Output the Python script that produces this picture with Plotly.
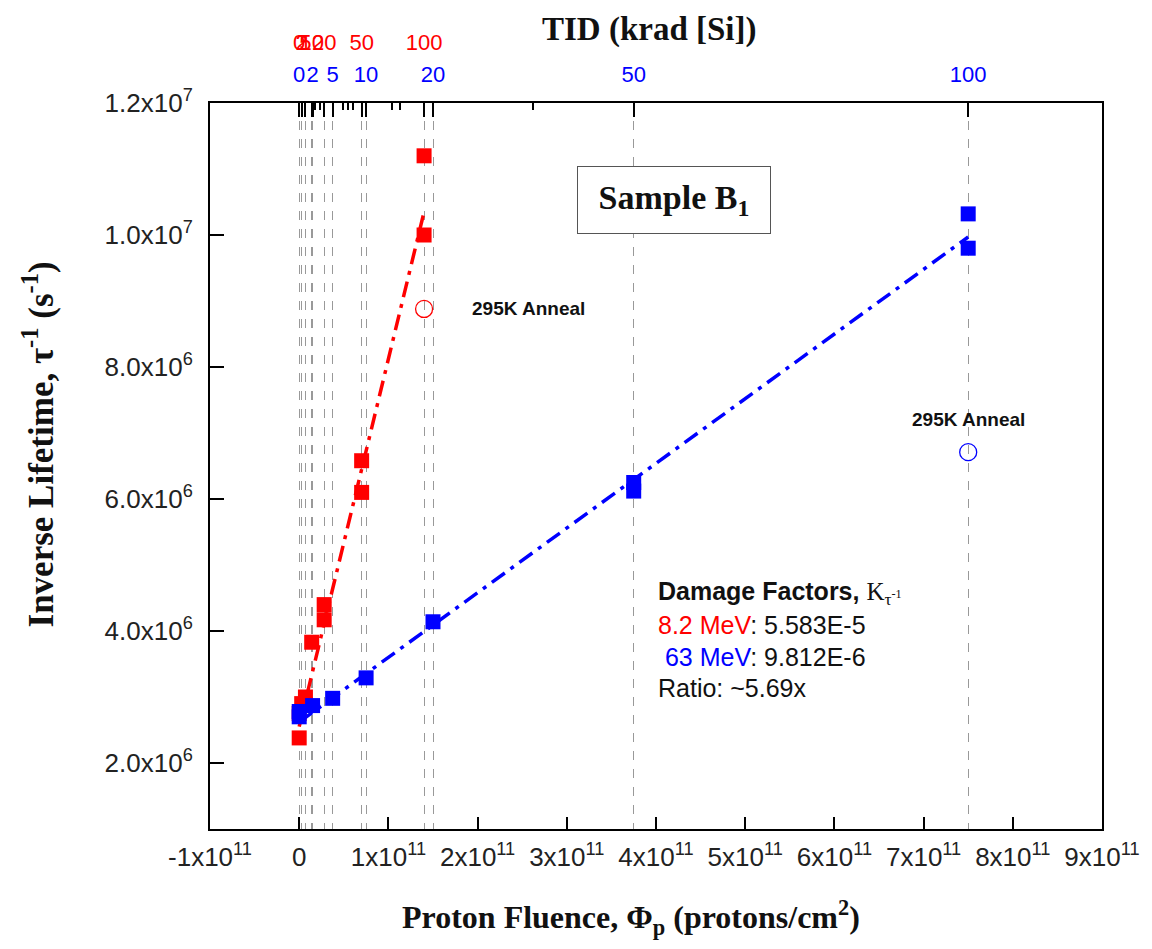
import plotly.graph_objects as go

# 8.2 MeV protons (red)
red_x = [0, 0, 2.8e9, 7e9, 1.4e10, 2.8e10, 2.8e10, 7e10, 7e10, 1.4e11, 1.4e11]
red_y = [2.38e6, 2.75e6, 2.9e6, 3.0e6, 3.83e6, 4.17e6, 4.4e6, 6.1e6, 6.58e6, 1.0e7, 1.12e7]
red_fit_x = [0, 1.4e11]
red_fit_y = [2.55e6, 1.035e7]
red_anneal_x = [1.4e11]
red_anneal_y = [8.88e6]

# 63 MeV protons (blue)
blue_x = [0, 0, 1.5e10, 3.75e10, 7.5e10, 1.5e11, 3.75e11, 3.75e11, 7.5e11, 7.5e11]
blue_y = [2.7e6, 2.78e6, 2.87e6, 2.98e6, 3.29e6, 4.14e6, 6.12e6, 6.25e6, 9.8e6, 1.032e7]
blue_fit_x = [0, 7.5e11]
blue_fit_y = [2.62e6, 9.97e6]
blue_anneal_x = [7.5e11]
blue_anneal_y = [6.71e6]

# top TID axis (krad [Si]) -> fluence positions
tid_labels = ["0", "2", "5", "10", "20", "50", "100"]
tid_blue_pos = [0, 1.5e10, 3.75e10, 7.5e10, 1.5e11, 3.75e11, 7.5e11]
tid_red_pos = [0, 2.8e9, 7e9, 1.4e10, 2.8e10, 7e10, 1.4e11]
tid_minor_pos = [1.8e10, 2.35e10, 4.9e10, 5.5e10, 6.05e10, 1.04e11, 1.13e11, 2.62e11]

x_ticks = [-1e11, 0, 1e11, 2e11, 3e11, 4e11, 5e11, 6e11, 7e11, 8e11, 9e11]
x_ticktext = ["-1x10<sup>11</sup>", "0"] + ["%dx10<sup>11</sup>" % i for i in range(1, 10)]
y_ticks = [2e6, 4e6, 6e6, 8e6, 1e7, 1.2e7]
y_ticktext = ["2.0x10<sup>6</sup>", "4.0x10<sup>6</sup>", "6.0x10<sup>6</sup>",
              "8.0x10<sup>6</sup>", "1.0x10<sup>7</sup>", "1.2x10<sup>7</sup>"]

RED = "#ff0000"
BLUE = "#0000ff"
SANS = "Liberation Sans, Arial"
SERIF = "Liberation Serif, Times New Roman"
DASHDOT = "16px,7px,4px,7px"

fig = go.Figure()

fig.add_trace(go.Scatter(x=red_fit_x, y=red_fit_y, mode="lines",
                         line=dict(color=RED, width=3.5, dash=DASHDOT)))
fig.add_trace(go.Scatter(x=blue_fit_x, y=blue_fit_y, mode="lines",
                         line=dict(color=BLUE, width=3.5, dash=DASHDOT)))
fig.add_trace(go.Scatter(x=red_x, y=red_y, mode="markers",
                         marker=dict(symbol="square", size=15, color=RED)))
fig.add_trace(go.Scatter(x=blue_x, y=blue_y, mode="markers",
                         marker=dict(symbol="square", size=15, color=BLUE)))
fig.add_trace(go.Scatter(x=red_anneal_x, y=red_anneal_y, mode="markers",
                         marker=dict(symbol="circle-open", size=17, color=RED,
                                     line=dict(width=1.3))))
fig.add_trace(go.Scatter(x=blue_anneal_x, y=blue_anneal_y, mode="markers",
                         marker=dict(symbol="circle-open", size=17, color=BLUE,
                                     line=dict(width=1.3))))

# dummy traces so the overlaying top axes get drawn
fig.add_trace(go.Scatter(x=[None], y=[None], xaxis="x2", showlegend=False))
fig.add_trace(go.Scatter(x=[None], y=[None], xaxis="x3", showlegend=False))
fig.add_trace(go.Scatter(x=[None], y=[None], xaxis="x4", showlegend=False))

xr = [-1e11, 9e11]
ydom_top = 0.8974

fig.update_layout(
    width=1152, height=949,
    paper_bgcolor="white", plot_bgcolor="white",
    showlegend=False,
    margin=dict(l=202, r=58, t=12, b=128),
    font=dict(family=SANS, size=26, color="#222"),
    xaxis=dict(
        range=xr, tickvals=x_ticks, ticktext=x_ticktext, automargin=False,
        ticks="inside", ticklen=12, tickwidth=2, tickcolor="black",
        showline=True, linecolor="black", linewidth=2, mirror=True,
        showgrid=False, zeroline=False, tickangle=0,
        tickfont=dict(family=SANS, size=26, color="#222"),
        ticklabelstandoff=4,
    ),
    xaxis2=dict(
        range=xr, overlaying="x", side="top", anchor="y", automargin=False,
        tickvals=tid_blue_pos + tid_red_pos,
        ticktext=tid_labels + [""] * len(tid_red_pos),
        ticks="inside", ticklen=14, tickwidth=2, tickcolor="black",
        showline=False, tickangle=0,
        showgrid=True, gridcolor="#999999", gridwidth=1, griddash="dash",
        zeroline=False,
        tickfont=dict(family=SANS, size=22, color=BLUE),
        ticklabelstandoff=16,
    ),
    xaxis3=dict(
        range=xr, overlaying="x", side="top", anchor="free", position=0.958,
        tickvals=tid_red_pos, ticktext=tid_labels, automargin=False,
        ticks="", showline=False, showgrid=False, zeroline=False, tickangle=0,
        tickfont=dict(family=SANS, size=22, color=RED),
    ),
    xaxis4=dict(
        range=xr, overlaying="x", side="top", anchor="y", automargin=False,
        tickvals=tid_minor_pos, ticktext=[""] * len(tid_minor_pos),
        ticks="inside", ticklen=7, tickwidth=2, tickcolor="black",
        showline=False, showgrid=False, zeroline=False,
    ),
    yaxis=dict(
        range=[1e6, 1.2e7], domain=[0, ydom_top], automargin=False,
        tickvals=y_ticks, ticktext=y_ticktext,
        ticks="inside", ticklen=14, tickwidth=2, tickcolor="black",
        showline=True, linecolor="black", linewidth=2, mirror=True,
        showgrid=False, zeroline=False,
        tickfont=dict(family=SANS, size=26, color="#222"),
        ticklabelstandoff=10,
    ),
)

annotations = [
    dict(x=0.493, y=1.0136, xref="paper", yref="paper", xanchor="center", yanchor="top",
         text="<b>TID (krad [Si])</b>", showarrow=False,
         font=dict(family=SERIF, size=33, color="#111")),
    dict(x=0.472, y=-0.110, xref="paper", yref="paper", xanchor="center", yanchor="middle",
         text="<b>Proton Fluence, Φ<sub>p</sub> (protons/cm<sup>2</sup>)</b>", showarrow=False,
         font=dict(family=SERIF, size=32, color="#111")),
    dict(x=-0.192, y=0.475, xref="paper", yref="paper", xanchor="center", yanchor="middle",
         textangle=-90,
         text="<b>Inverse Lifetime, τ<sup>-1</sup> (s<sup>-1</sup>)</b>", showarrow=False,
         font=dict(family=SERIF, size=35, color="#111")),
    dict(x=4.2e11, y=1.053e7, text="<b>Sample B<sub>1</sub></b>", showarrow=False,
         font=dict(family=SERIF, size=34, color="#111"), width=184, height=58,
         bordercolor="#555", borderwidth=1, borderpad=4, bgcolor="white"),
    dict(x=1.92e11, y=8.88e6, xanchor="left", text="<b>295K Anneal</b>", showarrow=False,
         font=dict(family=SANS, size=19, color="#111")),
    dict(x=7.5e11, y=7.2e6, xanchor="center", text="<b>295K Anneal</b>", showarrow=False,
         font=dict(family=SANS, size=19, color="#111")),
    dict(x=4.0e11, y=4.58e6, xanchor="left",
         text="<b>Damage Factors, </b><span style='font-family:Liberation Serif'>K<sub>τ<sup>-1</sup></sub></span>",
         showarrow=False, font=dict(family=SANS, size=25, color="#111")),
    dict(x=4.0e11, y=4.09e6, xanchor="left",
         text="<span style='color:#ff0000'>8.2 MeV</span>: 5.583E-5",
         showarrow=False, font=dict(family=SANS, size=25, color="#111")),
    dict(x=4.0e11, y=3.6e6, xanchor="left",
         text=" <span style='color:#0000ff'>63 MeV</span>: 9.812E-6",
         showarrow=False, font=dict(family=SANS, size=25, color="#111")),
    dict(x=4.0e11, y=3.13e6, xanchor="left", text="Ratio: ~5.69x",
         showarrow=False, font=dict(family=SANS, size=25, color="#111")),
]
fig.update_layout(annotations=annotations)

fig.write_html("out.html")
